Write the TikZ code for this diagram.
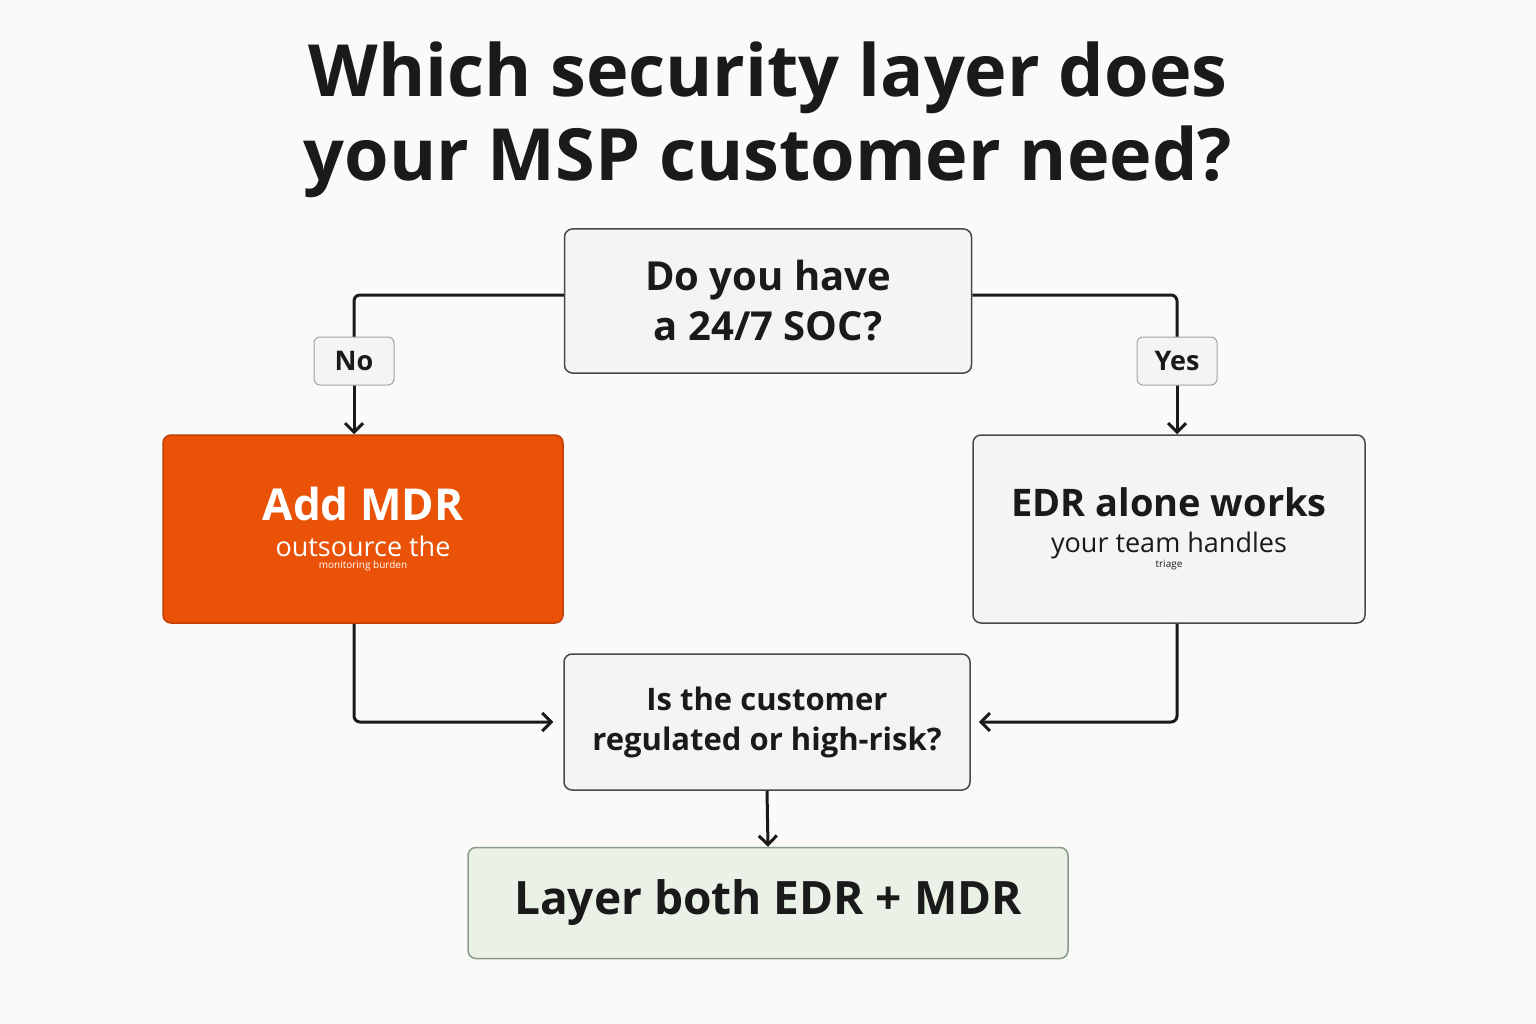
\documentclass[tikz,border=0pt]{standalone}
\usepackage{fontspec}
\setmainfont{Open Sans}
\usetikzlibrary{arrows.meta,positioning}
\definecolor{bgcol}{HTML}{FAFAF8}
\definecolor{boxfill}{HTML}{F4F4F2}
\definecolor{mdrfill}{HTML}{EA5208}
\definecolor{mdrline}{HTML}{C43F05}
\definecolor{resfill}{HTML}{EAF2E7}
\definecolor{resline}{HTML}{8A9A88}
\definecolor{ink}{HTML}{1A1A1A}
\tikzset{
  box/.style={draw=ink!80, line width=1.5pt, rounded corners=8pt, fill=boxfill, align=center, inner sep=0pt},
  tag/.style={draw=ink!40, line width=1pt, rounded corners=6pt, fill=boxfill, minimum width=80pt, minimum height=48pt, font=\fontsize{27}{30}\selectfont\bfseries, text=ink},
  link/.style={draw=ink, line width=3pt, rounded corners=6pt},
  arr/.style={link, -{Straight Barb[length=9pt,width=18pt,line width=3pt]}}
}
\begin{document}
\begin{tikzpicture}[x=1pt,y=-1pt]
  \fill[bgcol] (0,0) rectangle (1536,1024);
  \useasboundingbox (0,0) rectangle (1536,1024);

  % Title
  \node[font=\fontsize{72}{84}\selectfont\bfseries, text=ink, align=center] (title) at (768,120)
    {Which security layer does\\your MSP customer need?};

  % Boxes
  \node[box, minimum width=407pt, minimum height=144pt, font=\fontsize{40}{50}\selectfont\bfseries, text=ink] (soc) at (768,301)
    {Do you have\\a 24/7 SOC?};
  \node[box, fill=mdrfill, draw=mdrline, minimum width=400pt, minimum height=188pt, text=white] (mdr) at (363,529)
    {\fontsize{44}{50}\selectfont\bfseries Add MDR\\[14pt]\fontsize{27}{34}\selectfont\mdseries outsource the\\monitoring burden};
  \node[box, minimum width=392pt, minimum height=188pt, text=ink] (edr) at (1169,529)
    {\fontsize{38}{46}\selectfont\bfseries EDR alone works\\[14pt]\fontsize{27}{34}\selectfont\mdseries your team handles\\triage};
  \node[box, minimum width=406pt, minimum height=136pt, font=\fontsize{31}{40}\selectfont\bfseries, text=ink] (risk) at (767,722)
    {Is the customer\\regulated or high-risk?};
  \node[box, fill=resfill, draw=resline, minimum width=600pt, minimum height=111pt, font=\fontsize{46}{54}\selectfont\bfseries, text=ink] (both) at (768,903)
    {Layer both EDR + MDR};

  % Connectors
  \coordinate (noturn) at (354,295);
  \coordinate (yesturn) at (1177,295);
  \draw[link] (soc.west |- noturn) -- (noturn) -- (354,337);
  \draw[arr] (354,385) -- (mdr.north -| noturn);
  \draw[link] (soc.east |- yesturn) -- (yesturn) -- (1177,337);
  \draw[arr] (1177,385) -- (edr.north -| yesturn);
  \node[tag] (no) at (354,361) {No};
  \node[tag] (yes) at (1177,361) {Yes};

  \draw[arr] (mdr.south -| noturn) |- ([xshift=-10pt]risk.west);
  \draw[arr] (edr.south -| yesturn) |- ([xshift=8pt]risk.east);
  \draw[arr] (risk.south) -- (both.north);
\end{tikzpicture}
\end{document}
